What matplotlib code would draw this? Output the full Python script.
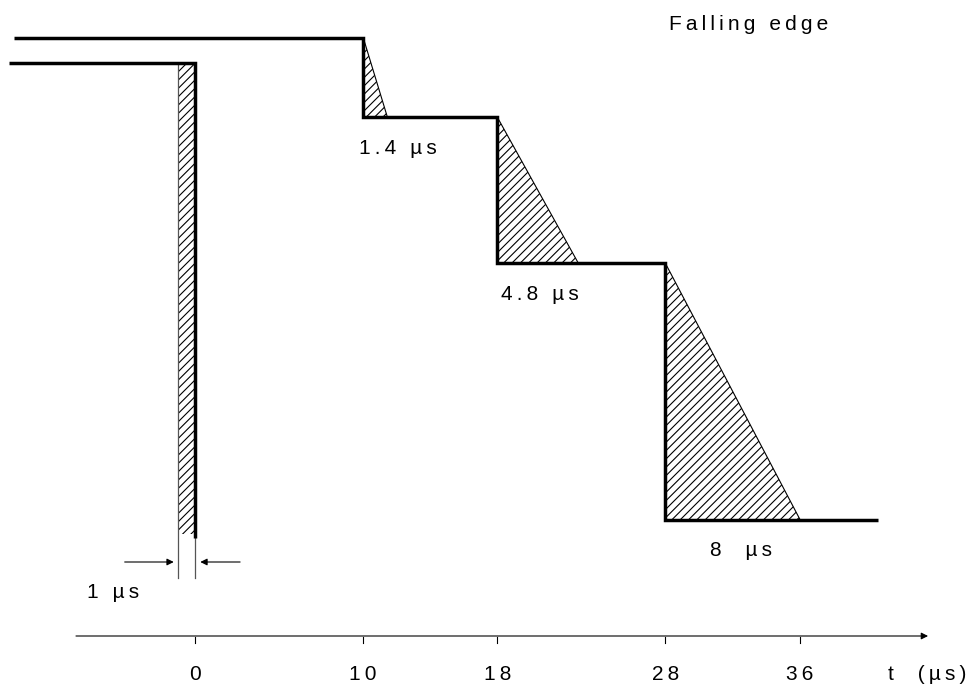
import matplotlib
matplotlib.use("Agg")
import matplotlib.pyplot as plt
from matplotlib.patches import Polygon

plt.rcParams['font.family'] = ['Liberation Sans', 'DejaVu Sans']
plt.rcParams['hatch.linewidth'] = 0.8

# x in microseconds; y is a vertical level in pixel-like units (0 top)
tick_values = [0, 10, 18, 28, 36]
tick_labels = ["0", "10", "18", "28", "36"]

# upper staircase waveform (falling edge steps)
step_times = [10, 18, 28]
step_levels = [38, 117, 263, 520]
fall_times = [1.4, 4.8, 8]
fall_labels = ["1.4 µs", "4.8 µs", "8  µs"]
fall_label_x = [12.1, 20.5, 32.5]
upper_start, upper_end = -10.75, 40.65

# ideal edge
ideal_level_top, ideal_level_bottom = 63, 538
ideal_start = -11.1
ideal_width = 1.0

px_per_us = 16.8
x0_px = 195
xmin = -x0_px / px_per_us
xmax = (972 - x0_px) / px_per_us

THIN = "\u2009"


def spaced(s):
    return THIN.join(list(s))


fig = plt.figure(figsize=(9.72, 6.96), dpi=100)
ax = fig.add_axes([0, 0, 1, 1])
ax.set_xlim(xmin, xmax)
ax.set_ylim(696, 0)
ax.axis('off')

FS = 15
lw = 2.5
# upper staircase
xs = [upper_start]
ys = [step_levels[0]]
for i, t in enumerate(step_times):
    xs += [t, t]
    ys += [step_levels[i], step_levels[i + 1]]
xs.append(upper_end)
ys.append(step_levels[-1])
ax.plot(xs, ys, color='black', lw=lw, solid_capstyle='butt', solid_joinstyle='miter', zorder=3)

# hatched triangles
for i, t in enumerate(step_times):
    tri = Polygon([(t, step_levels[i]), (t, step_levels[i + 1]), (t + fall_times[i], step_levels[i + 1])],
                  closed=True, facecolor='white', edgecolor='black', hatch='////', lw=0.8, zorder=2)
    ax.add_patch(tri)
    ax.text(fall_label_x[i], step_levels[i + 1] + 31, spaced(fall_labels[i]),
            ha='center', va='center', fontsize=FS)

# ideal edge
ax.plot([ideal_start, 0, 0], [ideal_level_top, ideal_level_top, ideal_level_bottom],
        color='black', lw=lw, solid_capstyle='butt', solid_joinstyle='miter', zorder=3)
rect = Polygon([(-ideal_width, ideal_level_top), (0, ideal_level_top), (0, ideal_level_bottom - 4),
                (-ideal_width, ideal_level_bottom - 4)], closed=True, facecolor='white',
               edgecolor='black', lw=0, hatch='////', zorder=2)
ax.add_patch(rect)
ax.plot([-ideal_width, -ideal_width], [ideal_level_top, 578], color='#555555', lw=0.9, zorder=2)
ax.plot([0, 0], [ideal_level_bottom, 578], color='#555555', lw=0.9, zorder=2)

# dimension arrows
ax.annotate("", xy=(-ideal_width - 0.1, 562), xytext=(-4.35, 562),
            arrowprops=dict(arrowstyle='-|>', color='black', lw=0.8, mutation_scale=10))
ax.annotate("", xy=(0.15, 562), xytext=(2.85, 562),
            arrowprops=dict(arrowstyle='-|>', color='black', lw=0.8, mutation_scale=10))
ax.text(-4.9, 592, spaced("1 µs"), ha='center', va='center', fontsize=FS)

# time axis
ax.annotate("", xy=(43.8, 636), xytext=(-7.25, 636),
            arrowprops=dict(arrowstyle='-|>', color='black', lw=0.8, mutation_scale=10))
for v, lab in zip(tick_values, tick_labels):
    ax.plot([v, v], [637, 643], color='black', lw=0.8)
    ax.text(v, 675, spaced(lab), ha='center', va='center', fontsize=FS)
ax.text(45.9, 675, spaced("t  (µs)"), ha='right', va='center', fontsize=FS)

ax.text(37.7, 25, spaced("Falling edge"), ha='right', va='center', fontsize=FS)

fig.savefig("out.png", dpi=100)
